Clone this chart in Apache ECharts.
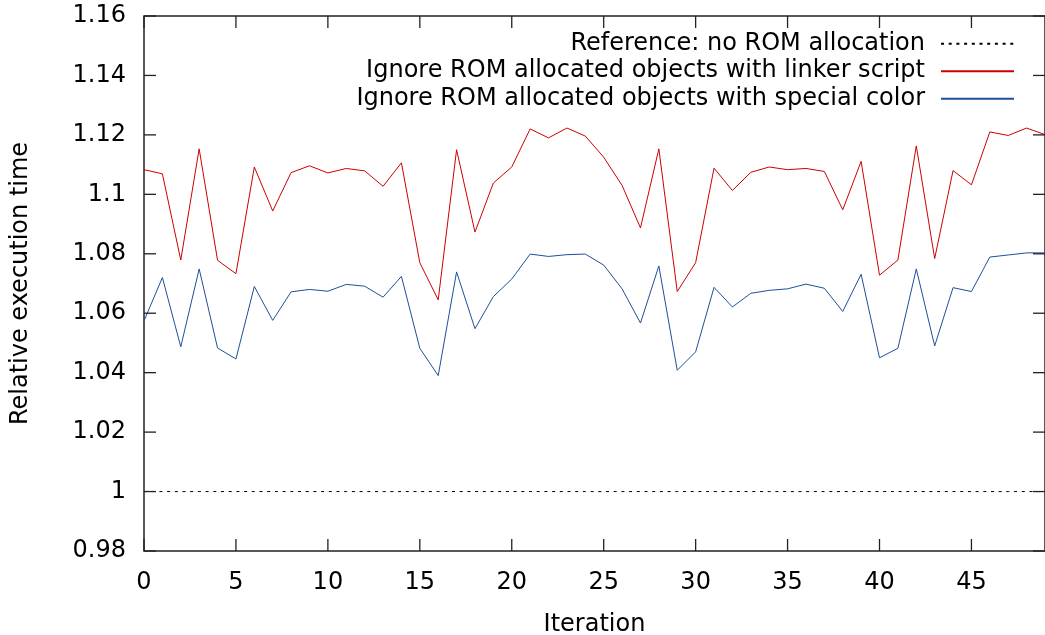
<!DOCTYPE html>
<html>
<head>
<meta charset="utf-8">
<script src="https://cdn.jsdelivr.net/npm/echarts@6/dist/echarts.min.js"></script>
<style>
  html, body { margin: 0; padding: 0; background: #fff; overflow: hidden; }
  #chart { width: 1045px; height: 635px; }
</style>
</head>
<body>
<div id="chart"></div>
<script>
var iterations = [];
for (var i = 0; i < 50; i++) iterations.push(i);

var linkerScript = [1.1083, 1.1069, 1.0779, 1.1153, 1.0778, 1.0733, 1.1092, 1.0944, 1.1073, 1.1096,
  1.1072, 1.1087, 1.1079, 1.1027, 1.1106, 1.0770, 1.0645, 1.1150, 1.0873, 1.1038,
  1.1092, 1.1220, 1.1190, 1.1223, 1.1196, 1.1125, 1.1030, 1.0887, 1.1153, 1.0673,
  1.0770, 1.1088, 1.1013, 1.1074, 1.1092, 1.1083, 1.1087, 1.1077, 1.0948, 1.1111,
  1.0728, 1.0779, 1.1163, 1.0784, 1.1080, 1.1032, 1.1210, 1.1198, 1.1223, 1.1201];

var specialColor = [1.0574, 1.0720, 1.0487, 1.0749, 1.0483, 1.0446, 1.0690, 1.0576, 1.0672, 1.0680,
  1.0674, 1.0697, 1.0691, 1.0654, 1.0724, 1.0482, 1.0390, 1.0739, 1.0548, 1.0656,
  1.0715, 1.0799, 1.0791, 1.0797, 1.0799, 1.0762, 1.0682, 1.0567, 1.0759, 1.0408,
  1.0470, 1.0687, 1.0621, 1.0667, 1.0677, 1.0682, 1.0698, 1.0684, 1.0606, 1.0731,
  1.0450, 1.0482, 1.0749, 1.0490, 1.0686, 1.0673, 1.0789, 1.0796, 1.0803, 1.0803];

var referenceLevel = 1;

var xTicks = [0, 5, 10, 15, 20, 25, 30, 35, 40, 45];
var yTicks = [0.98, 1.00, 1.02, 1.04, 1.06, 1.08, 1.10, 1.12, 1.14, 1.16];

var names = ['Reference: no ROM allocation',
  'Ignore ROM allocated objects with linker script',
  'Ignore ROM allocated objects with special color'];

function pairs(vals) {
  return iterations.map(function (x, k) { return [x, vals[k]]; });
}

var font = 'DejaVu Sans';
var chart = echarts.init(document.getElementById('chart'));

var tickLen = 12;

// inward ticks on all four sides of the box, placed through the axes
function drawXTick(params, api) {
  var low = api.coord([api.value(0), 0.98]);
  var high = api.coord([api.value(0), 1.16]);
  return { type: 'group', children: [
    { type: 'line', shape: { x1: low[0], y1: low[1], x2: low[0], y2: low[1] - tickLen }, style: { stroke: '#222', lineWidth: 1.3 } },
    { type: 'line', shape: { x1: high[0], y1: high[1], x2: high[0], y2: high[1] + tickLen }, style: { stroke: '#222', lineWidth: 1.3 } }
  ] };
}
function drawYTick(params, api) {
  var a = api.coord([0, api.value(1)]);
  var b = api.coord([49, api.value(1)]);
  return { type: 'group', children: [
    { type: 'line', shape: { x1: a[0], y1: a[1], x2: a[0] + tickLen, y2: a[1] }, style: { stroke: '#222', lineWidth: 1.3 } },
    { type: 'line', shape: { x1: b[0], y1: b[1], x2: b[0] - tickLen, y2: b[1] }, style: { stroke: '#222', lineWidth: 1.3 } }
  ] };
}

chart.setOption({
  animation: false,
  grid: {
    left: 144, right: 0, top: 16, bottom: 84,
    outerBoundsMode: 'none',
    show: true, borderColor: '#222', borderWidth: 1.5
  },
  legend: {
    orient: 'vertical',
    right: 30,
    top: 30,
    padding: 0,
    align: 'right',
    itemWidth: 73,
    itemHeight: 10,
    itemGap: 0,
    itemStyle: { opacity: 0 },
    textStyle: { fontFamily: font, fontSize: 24, lineHeight: 27.5, color: '#000', padding: [0, 11, 0, 0] },
    data: names
  },
  xAxis: {
    type: 'value', min: 0, max: 49, interval: 5,
    name: 'Iteration', nameLocation: 'middle', nameGap: 62,
    nameTextStyle: { fontFamily: font, fontSize: 24, color: '#000' },
    axisLine: { show: false, onZero: false }, axisTick: { show: false },
    axisLabel: { fontFamily: font, fontSize: 24, color: '#000', margin: 20, showMaxLabel: false },
    splitLine: { show: false }
  },
  yAxis: {
    type: 'value', min: 0.98, max: 1.16, interval: 0.02,
    name: 'Relative execution time', nameLocation: 'middle', nameGap: 111,
    nameTextStyle: { fontFamily: font, fontSize: 24, color: '#000' },
    axisLine: { show: false, onZero: false }, axisTick: { show: false },
    axisLabel: { fontFamily: font, fontSize: 24, color: '#000', margin: 18 },
    splitLine: { show: false }
  },
  series: [
    {
      name: names[0], type: 'line', symbol: 'none',
      data: pairs(iterations.map(function () { return referenceLevel; })),
      lineStyle: { color: '#000', width: 1, type: [3, 4.7] },
      itemStyle: { color: '#000' }
    },
    {
      name: names[1], type: 'line', symbol: 'none',
      data: pairs(linkerScript),
      lineStyle: { color: '#cc0000', width: 1 },
      itemStyle: { color: '#cc0000' }
    },
    {
      name: names[2], type: 'line', symbol: 'none',
      data: pairs(specialColor),
      lineStyle: { color: '#1f4f99', width: 1 },
      itemStyle: { color: '#1f4f99' }
    },
    {
      type: 'custom', silent: true, clip: false, z: 5,
      data: xTicks.map(function (x) { return [x, 0.98]; }),
      renderItem: drawXTick
    },
    {
      type: 'custom', silent: true, clip: false, z: 5,
      data: yTicks.map(function (y) { return [0, y]; }),
      renderItem: drawYTick
    }
  ]
});
</script>
</body>
</html>
